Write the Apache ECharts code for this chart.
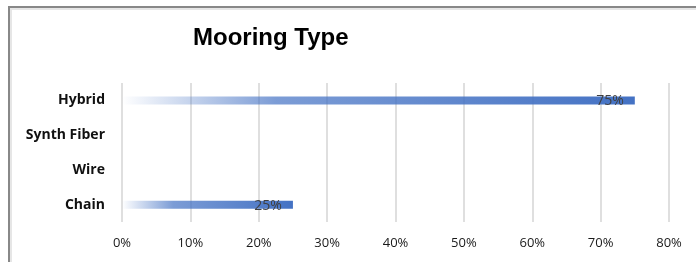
<!DOCTYPE html>
<html>
<head>
<meta charset="utf-8">
<script src="https://cdn.jsdelivr.net/npm/echarts@6/dist/echarts.min.js"></script>
<style>
html,body{margin:0;padding:0;background:#fff;}
#c{width:696px;height:262px;}
</style>
</head>
<body>
<div id="c"></div>
<script>
var categories = ['Chain', 'Wire', 'Synth Fiber', 'Hybrid'];
var values = [25, null, null, 75];
var xTicks = [0, 10, 20, 30, 40, 50, 60, 70, 80];

var chart = echarts.init(document.getElementById('c'), null, {renderer: 'canvas'});
var grad = new echarts.graphic.LinearGradient(0, 0, 1, 0, [
  {offset: 0, color: 'rgba(68,114,196,0)'},
  {offset: 0.3, color: 'rgba(68,114,196,0.7)'},
  {offset: 1, color: 'rgba(68,114,196,1)'}
]);
chart.setOption({
  animation: false,
  backgroundColor: '#fff',
  graphic: [
    {type: 'rect', shape: {x: 9, y: 7, width: 720, height: 300}, style: {fill: 'none', stroke: '#888', lineWidth: 2}, z: 10},
    {type: 'rect', shape: {x: 11, y: 9, width: 720, height: 300}, style: {fill: 'none', stroke: '#e6e6e6', lineWidth: 2}, z: 10}
  ],
  title: {
    text: 'Mooring Type',
    left: 188,
    top: 21,
    textStyle: {fontFamily: 'Liberation Sans', fontWeight: 'bold', fontSize: 24, color: '#000'}
  },
  grid: {left: 122, right: 27, top: 83, height: 139, containLabel: false},
  xAxis: {
    type: 'value',
    min: 0, max: 80, interval: 10,
    axisLine: {show: false},
    axisTick: {show: false},
    splitLine: {lineStyle: {color: '#d4d4d4', width: 1.5}},
    axisLabel: {
      formatter: function (v) { return xTicks.indexOf(v) >= 0 ? v + '%' : ''; },
      fontFamily: 'Open Sans', fontSize: 13, color: '#1a1a1a', margin: 15
    }
  },
  yAxis: {
    type: 'category',
    data: categories,
    axisLine: {show: false},
    axisTick: {show: false},
    axisLabel: {fontFamily: 'Open Sans', fontWeight: 'bold', fontSize: 14, color: '#111', margin: 17}
  },
  series: [{
    type: 'bar',
    data: values,
    barWidth: 8,
    itemStyle: {color: grad},
    label: {
      show: true,
      position: 'insideRight',
      distance: 11,
      offset: [0, 1],
      formatter: function (p) { return p.value + '%'; },
      fontFamily: 'Open Sans', fontSize: 14, color: '#404040'
    }
  }]
});
</script>
</body>
</html>
